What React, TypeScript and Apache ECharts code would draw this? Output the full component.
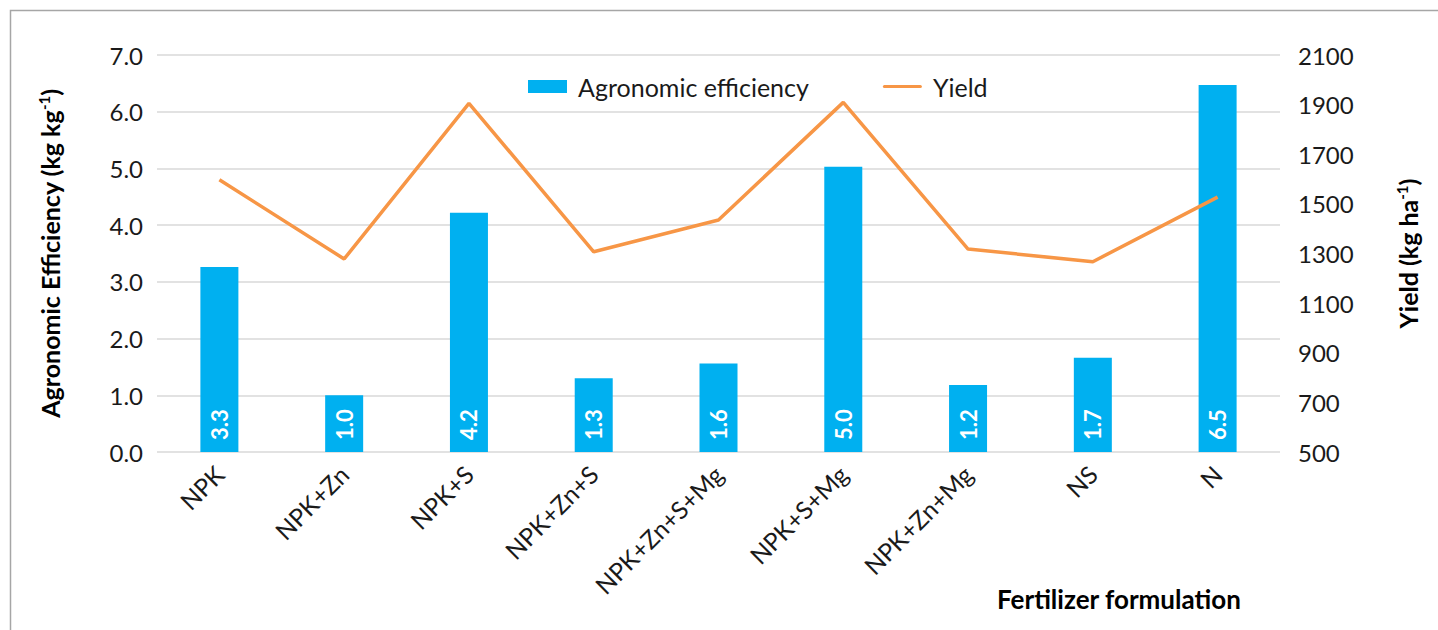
import React, { useEffect, useRef } from "react";
import * as echarts from "echarts";

const categories = ["NPK", "NPK+Zn", "NPK+S", "NPK+Zn+S", "NPK+Zn+S+Mg", "NPK+S+Mg", "NPK+Zn+Mg", "NS", "N"];
const efficiency = [3.26, 1.0, 4.22, 1.3, 1.56, 5.03, 1.18, 1.66, 6.47];
const yieldValues = [1597, 1278, 1905, 1307, 1435, 1909, 1318, 1267, 1527];
const leftAxis = { min: 0, max: 7, interval: 1 };
const rightAxis = { min: 500, max: 2100, interval: 200 };

const FONT = "Lato, 'Open Sans', sans-serif";
const LINE_ICON = "path://M0,0 M0,13 M1.5,5 L37.5,5 A1.5,1.5 0 0 1 37.5,8 L1.5,8 A1.5,1.5 0 0 1 1.5,5 Z";

export default function App() {
  const ref = useRef<HTMLDivElement>(null);
  useEffect(() => {
    if (!ref.current) return;
    const chart = echarts.init(ref.current, null, { renderer: "svg" });
    const nameRich = {
      b: { fontSize: 25, fontWeight: "bold", color: "#000", fontFamily: FONT },
      s: { fontSize: 15, fontWeight: "bold", color: "#000", fontFamily: FONT, verticalAlign: "top", padding: [0, 0, 12, 0] },
    };
    chart.setOption({
      animation: false,
      backgroundColor: "#ffffff",
      textStyle: { fontFamily: FONT },
      grid: { left: 157, right: 158, top: 55, bottom: 178, containLabel: false },
      legend: {
        left: 523,
        top: 69,
        itemWidth: 39,
        itemHeight: 13,
        itemGap: 74,
        textStyle: { fontSize: 25, color: "#1a1a1a", fontFamily: FONT, padding: [0, 0, 0, 6] },
        data: [
          { name: "Agronomic efficiency", icon: "rect" },
          { name: "Yield", icon: LINE_ICON },
        ],
      },
      xAxis: {
        type: "category",
        data: categories,
        axisLine: { show: false },
        axisTick: { show: false },
        axisLabel: { rotate: 45, margin: 18, fontSize: 24.5, color: "#1a1a1a", fontFamily: FONT, interval: 0 },
      },
      yAxis: [
        {
          type: "value",
          min: leftAxis.min,
          max: leftAxis.max,
          interval: leftAxis.interval,
          axisLine: { show: false },
          axisTick: { show: false },
          splitLine: { lineStyle: { color: "#d9d9d9", width: 1.5 } },
          axisLabel: { margin: 14, fontSize: 24, color: "#1a1a1a", fontFamily: FONT, formatter: (v: number) => v.toFixed(1) },
          name: "{b|Agronomic Efficiency (kg kg}{s|-1}{b|)}",
          nameLocation: "middle",
          nameGap: 94,
          nameTextStyle: { rich: nameRich },
        },
        {
          type: "value",
          min: rightAxis.min,
          max: rightAxis.max,
          interval: rightAxis.interval,
          axisLine: { show: false },
          axisTick: { show: false },
          splitLine: { show: false },
          axisLabel: { margin: 18, fontSize: 24, color: "#1a1a1a", fontFamily: FONT, formatter: (v: number) => String(v) },
          name: "{b|Yield (kg ha}{s|-1}{b|)}",
          nameLocation: "middle",
          nameGap: 114,
          nameTextStyle: { rich: nameRich },
        },
      ],
      series: [
        {
          name: "Agronomic efficiency",
          type: "bar",
          data: efficiency,
          barWidth: 38,
          itemStyle: { color: "#00b0f0" },
          label: {
            show: true,
            position: "insideBottom",
            rotate: 90,
            align: "left",
            verticalAlign: "middle",
            distance: 12,
            color: "#ffffff",
            fontWeight: "bold",
            fontSize: 22,
            fontFamily: FONT,
            formatter: (p: any) => Number(p.value).toFixed(1),
          },
        },
        {
          name: "Yield",
          type: "line",
          yAxisIndex: 1,
          data: yieldValues,
          symbol: "none",
          lineStyle: { color: "#f79646", width: 3.5 },
          itemStyle: { color: "#f79646" },
        },
      ],
      graphic: [
        {
          type: "rect",
          shape: { x: 10.5, y: 10.5, width: 1500, height: 700 },
          style: { fill: "none", stroke: "#a6a6a6", lineWidth: 1.5 },
          silent: true,
        },
        {
          type: "text",
          left: 997,
          top: 586,
          style: { text: "Fertilizer formulation", fontSize: 26, fontWeight: "bold", fill: "#000", fontFamily: FONT },
        },
      ],
    });
    return () => chart.dispose();
  }, []);
  return <div ref={ref} style={{ position: "fixed", left: 0, top: 0, width: 1438, height: 630 }} />;
}
